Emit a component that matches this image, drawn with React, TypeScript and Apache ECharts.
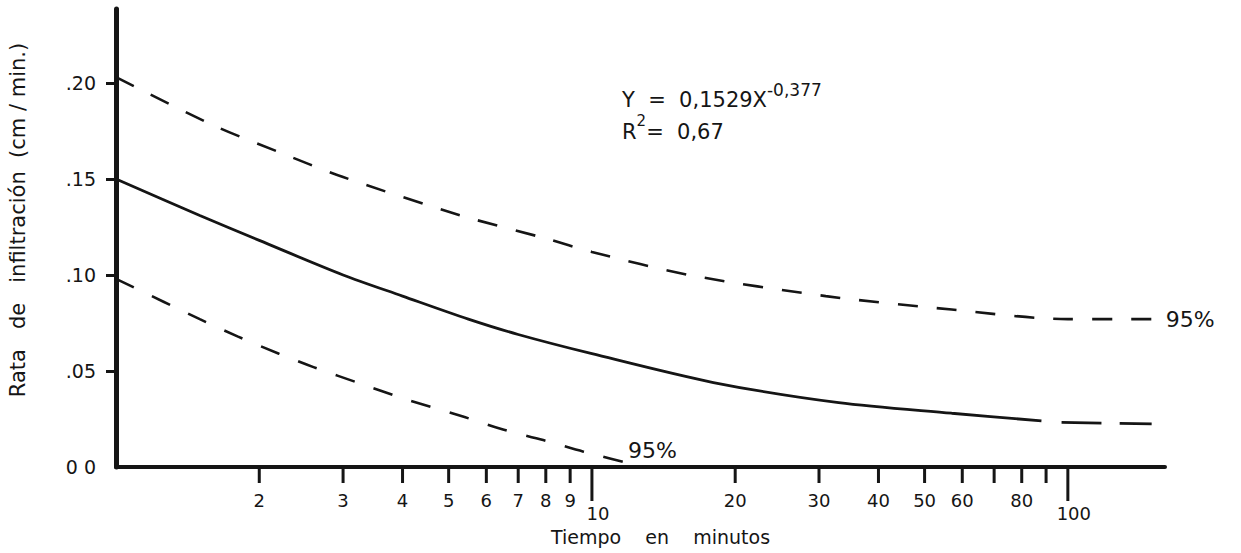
import React, { useEffect, useRef } from 'react';
import * as echarts from 'echarts';

// x-axis ticks (log scale, minutes)
const xTickValues = [2, 3, 4, 5, 6, 7, 8, 9, 10, 20, 30, 40, 50, 60, 70, 80, 90, 100];
const xTickLabels = ['2', '3', '4', '5', '6', '7', '8', '9', '10', '20', '30', '40', '50', '60', '', '80', '', '100'];
const xMajorTicks = [10, 100];

// y-axis ticks
const yTickValues = [0, 0.05, 0.1, 0.15, 0.2];
const yTickLabels = ['0 0', '.05', '.10', '.15', '.20'];

// fitted curve Y = 0.1529 X^-0.377 (as drawn)
const fitX = [1, 1.5, 2, 3, 4, 5.5, 7, 10, 18, 33, 57, 88];
const fitY = [0.15, 0.131, 0.118, 0.1, 0.089, 0.077, 0.069, 0.059, 0.044, 0.0335, 0.028, 0.024];
// dashed extension of the fitted curve
const fitExtX = [97, 150];
const fitExtY = [0.0232, 0.0225];

// upper 95% band
const upperX = [1, 1.6, 2.2, 3, 5.3, 8, 10, 16, 31, 57, 100, 150];
const upperY = [0.203, 0.178, 0.164, 0.151, 0.131, 0.119, 0.112, 0.1, 0.089, 0.082, 0.077, 0.077];

// lower 95% band
const lowerX = [1, 1.5, 1.8, 2.2, 2.6, 3.3, 4.1, 5.4, 6.4, 7.9, 9.6, 12.4, 13];
const lowerY = [0.098, 0.077, 0.068, 0.059, 0.052, 0.043, 0.035, 0.026, 0.02, 0.014, 0.008, 0.001, 0];

const FONT = '"DejaVu Sans", sans-serif';
const INK = '#151515';

const zip = (xs: number[], ys: number[]) => xs.map((x, i) => [x, ys[i]]);

export default function App() {
  const ref = useRef<HTMLDivElement>(null);
  useEffect(() => {
    if (!ref.current) return;
    const chart = echarts.init(ref.current, undefined, { renderer: 'svg' });
    const option: any = {
      animation: false,
      backgroundColor: '#ffffff',
      grid: { left: 116, right: 76, top: 9, bottom: 86, containLabel: false, outerBoundsMode: 'none' },
      xAxis: {
        type: 'log',
        logBase: 10,
        min: 1,
        max: 160,
        axisLine: { show: true, lineStyle: { color: INK, width: 4 } },
        axisTick: { show: false },
        axisLabel: { show: false },
        splitLine: { show: false },
        minorTick: { show: false },
        name: 'Tiempo    en    minutos',
        nameLocation: 'middle',
        nameGap: 60,
        nameTextStyle: { fontFamily: FONT, fontSize: 19, color: INK, padding: [0, 0, 0, 40] },
      },
      yAxis: {
        type: 'value',
        min: 0,
        max: 0.2385,
        interval: 0.05,
        axisLine: { show: true, lineStyle: { color: INK, width: 5 } },
        axisTick: { show: true, length: 10, lineStyle: { color: INK, width: 3 }, customValues: [0.05, 0.1, 0.15, 0.2] },
        axisLabel: {
          show: true,
          customValues: yTickValues,
          margin: 20,
          fontFamily: FONT,
          fontSize: 19,
          color: INK,
          formatter: (v: number) => {
            const i = yTickValues.findIndex((t) => Math.abs(t - v) < 1e-9);
            return i >= 0 ? yTickLabels[i] : '';
          },
        },
        splitLine: { show: false },
        name: 'Rata   de   infiltración  (cm / min.)',
        nameLocation: 'middle',
        nameRotate: 90,
        nameGap: 88,
        nameTextStyle: { fontFamily: FONT, fontSize: 21, color: INK, padding: [0, 0, 0, 36] },
      },
      series: [
        {
          name: 'ajuste',
          type: 'line',
          data: zip(fitX, fitY),
          smooth: 0.3,
          showSymbol: false,
          lineStyle: { color: INK, width: 2.8, type: 'solid' },
        },
        {
          name: 'ajuste ext',
          type: 'line',
          data: zip(fitExtX, fitExtY),
          smooth: 0.3,
          showSymbol: false,
          lineStyle: { color: INK, width: 2.8, type: [40, 18] },
        },
        {
          name: 'superior 95%',
          type: 'line',
          data: zip(upperX, upperY),
          smooth: 0.3,
          showSymbol: false,
          lineStyle: { color: INK, width: 2.6, type: [20, 19] },
          endLabel: { show: true, formatter: '95%', distance: 14, fontFamily: FONT, fontSize: 22, color: INK },
        },
        {
          name: 'inferior 95%',
          type: 'line',
          data: zip(lowerX, lowerY),
          smooth: 0.3,
          showSymbol: false,
          lineStyle: { color: INK, width: 2.6, type: [20, 20] },
        },
        {
          name: 'xticks',
          type: 'custom',
          coordinateSystem: 'cartesian2d',
          clip: false,
          silent: true,
          data: xTickValues.map((v) => [v, 0]),
          renderItem: (params: any, api: any) => {
            const i = params.dataIndex;
            const p = api.coord([api.value(0), 0]);
            const major = xMajorTicks.indexOf(xTickValues[i]) >= 0;
            const len = major ? 34 : 16;
            return {
              type: 'group',
              children: [
                {
                  type: 'line',
                  shape: { x1: p[0], y1: p[1], x2: p[0], y2: p[1] + len },
                  style: { stroke: INK, lineWidth: 3 },
                },
                {
                  type: 'text',
                  style: {
                    text: xTickLabels[i],
                    x: p[0] + (major ? 6 : 0),
                    y: p[1] + (major ? 46 : 33),
                    align: 'center',
                    verticalAlign: 'middle',
                    fontFamily: FONT,
                    fontSize: 18,
                    fill: INK,
                  },
                },
              ],
            };
          },
        },
      ],
      graphic: [
        {
          type: 'text',
          left: 628,
          top: 439,
          style: { text: '95%', fontFamily: FONT, fontSize: 22, fill: INK },
        },
        {
          type: 'text',
          left: 622,
          top: 81,
          style: {
            text: '{b|Y  =  0,1529X}{s|-0,377}\n{c|R}{t|2}{c|=  0,67}',
            fill: INK,
            rich: {
              b: { fontFamily: FONT, fontSize: 21, lineHeight: 29, verticalAlign: 'bottom', fill: INK },
              s: { fontFamily: FONT, fontSize: 17, lineHeight: 29, verticalAlign: 'top', fill: INK },
              c: { fontFamily: FONT, fontSize: 21, lineHeight: 32, verticalAlign: 'bottom', fill: INK },
              t: { fontFamily: FONT, fontSize: 15, lineHeight: 32, verticalAlign: 'top', padding: [3, 0, 0, 0], fill: INK },
            },
          },
        },
      ],
    };
    chart.setOption(option);
    return () => chart.dispose();
  }, []);
  return <div ref={ref} style={{ position: 'absolute', left: 0, top: 0, width: 1241, height: 553 }} />;
}
